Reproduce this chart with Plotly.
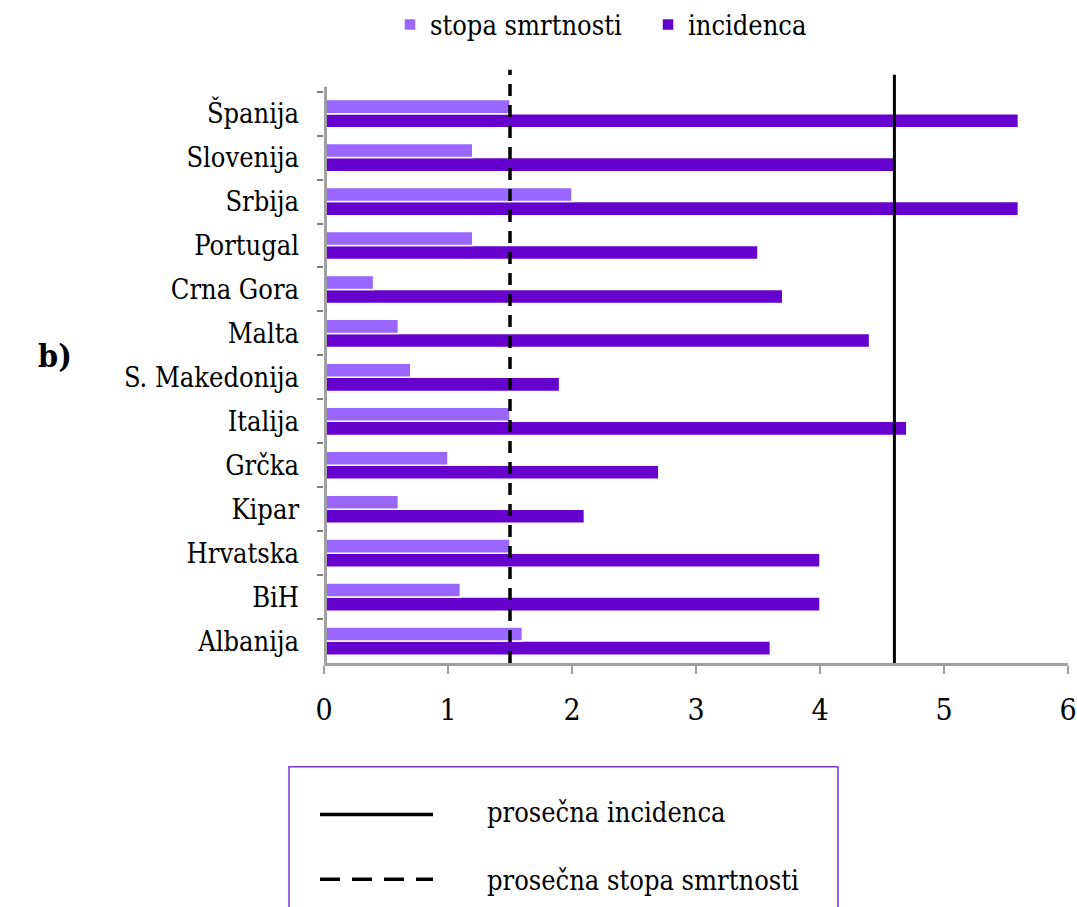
import plotly.graph_objects as go

# ---- data ----
countries = ["Albanija", "BiH", "Hrvatska", "Kipar", "Grčka", "Italija",
             "S. Makedonija", "Malta", "Crna Gora", "Portugal", "Srbija",
             "Slovenija", "Španija"]
stopa_smrtnosti = [1.6, 1.1, 1.5, 0.6, 1.0, 1.5, 0.7, 0.6, 0.4, 1.2, 2.0, 1.2, 1.5]
incidenca = [3.6, 4.0, 4.0, 2.1, 2.7, 4.7, 1.9, 4.4, 3.7, 3.5, 5.6, 4.6, 5.6]
prosecna_incidenca = 4.6
prosecna_stopa_smrtnosti = 1.5
x_ticks = [0, 1, 2, 3, 4, 5, 6]

FONT = "DejaVu Serif Condensed, Liberation Serif, serif"
C_LIGHT = "#9966FF"
C_DARK = "#6600CC"

W, H = 1077, 907
PLOT_TOP = 0            # plot area starts at figure top (legend stays inside -> no automargin)
PLOT_BOTTOM = 663
L, R, T = 324, 9, PLOT_TOP
B = H - PLOT_BOTTOM
PW, PH = W - L - R, H - T - B

# category band layout (px)
CAT_PX = 44.08
FIRST_CENTER = 641   # bottom category centre
LAST_CENTER = 112    # top category centre
y_lo = -(PLOT_BOTTOM - FIRST_CENTER) / CAT_PX
y_hi = (len(countries) - 1) + (LAST_CENTER - PLOT_TOP) / CAT_PX


def px(x):
    """page x -> paper"""
    return (x - L) / PW


def py(y):
    """page y -> paper"""
    return (H - B - y) / PH


fig = go.Figure()
fig.add_trace(go.Bar(
    y=countries, x=incidenca, orientation="h", name="incidenca",
    marker=dict(color=C_DARK, line=dict(color="white", width=1.5)),
))
fig.add_trace(go.Bar(
    y=countries, x=stopa_smrtnosti, orientation="h", name="stopa smrtnosti",
    marker=dict(color=C_LIGHT, line=dict(color="white", width=1.5)),
))

# gray wall of the value axis
fig.add_shape(type="line", xref="x", yref="paper", x0=0, x1=0,
              y0=0, y1=py(85), line=dict(color="#A0A0A0", width=6))

# average lines
fig.add_shape(type="line", xref="x", yref="paper",
              x0=prosecna_stopa_smrtnosti, x1=prosecna_stopa_smrtnosti, y0=0, y1=py(68),
              line=dict(color="black", width=3.5, dash="12px,9px"))
fig.add_shape(type="line", xref="x", yref="paper",
              x0=prosecna_incidenca, x1=prosecna_incidenca, y0=0, y1=py(73),
              line=dict(color="black", width=3))

# bottom legend box
fig.add_shape(type="rect", xref="paper", yref="paper",
              x0=px(289), x1=px(838), y0=py(767), y1=py(930),
              line=dict(color="#7B35D9", width=1.5), fillcolor="rgba(0,0,0,0)")
fig.add_shape(type="line", xref="paper", yref="paper",
              x0=px(320), x1=px(433), y0=py(815), y1=py(815),
              line=dict(color="black", width=3.5))
fig.add_shape(type="line", xref="paper", yref="paper",
              x0=px(320), x1=px(433), y0=py(880), y1=py(880),
              line=dict(color="black", width=3.5, dash="20px,12px"))
fig.add_annotation(xref="paper", yref="paper", x=px(485), y=py(813),
                   text="prosečna incidenca", showarrow=False,
                   xanchor="left", yanchor="middle",
                   font=dict(family=FONT, size=27, color="black"))
fig.add_annotation(xref="paper", yref="paper", x=px(485), y=py(881),
                   text="prosečna stopa smrtnosti", showarrow=False,
                   xanchor="left", yanchor="middle",
                   font=dict(family=FONT, size=27, color="black"))
fig.add_annotation(xref="paper", yref="paper", x=px(36), y=py(355),
                   text="<b>b)</b>", showarrow=False,
                   xanchor="left", yanchor="middle",
                   font=dict(family=FONT, size=32, color="black"))

fig.update_layout(
    width=W, height=H,
    margin=dict(l=L, r=R, t=T, b=B),
    plot_bgcolor="white", paper_bgcolor="white",
    barmode="group", bargap=0.36, bargroupgap=0.0,
    font=dict(family=FONT, size=27, color="black"),
    showlegend=True,
    legend=dict(orientation="h", x=px(390), xanchor="left", y=py(23), yanchor="middle",
                traceorder="reversed", font=dict(family=FONT, size=27),
                bgcolor="rgba(0,0,0,0)", itemwidth=30,
                entrywidth=213, entrywidthmode="pixels"),
    xaxis=dict(range=[0, 6], tickvals=x_ticks, ticktext=[str(v) for v in x_ticks],
               showgrid=False, zeroline=False, showline=True,
               linecolor="#A0A0A0", linewidth=2.5,
               ticks="outside", ticklen=8, tickcolor="#A0A0A0", tickwidth=2,
               tickfont=dict(family=FONT, size=30),
               ticklabelstandoff=10, fixedrange=True),
    yaxis=dict(type="category", categoryorder="array", categoryarray=countries,
               range=[y_lo, y_hi], showgrid=False, zeroline=False,
               showline=False,
               ticks="outside", ticklen=6, tickcolor="#808080", tickwidth=2,
               tickson="boundaries", ticklabelstandoff=24, fixedrange=True),
)

fig.write_html(
    "out.html",
    config={"displayModeBar": False},
    post_script="document.body.style.margin='0';document.body.style.overflow='hidden';",
)
